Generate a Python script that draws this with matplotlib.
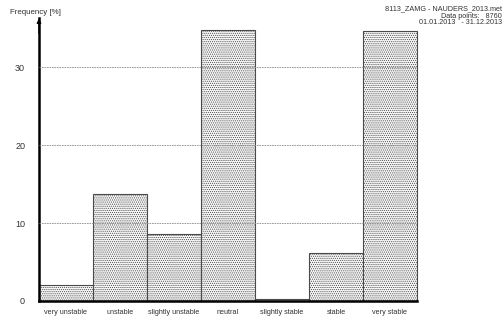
import matplotlib.pyplot as plt

plt.rcParams['font.family'] = ['Liberation Sans', 'DejaVu Sans']
plt.rcParams['hatch.color'] = '#b4b4b4'
plt.rcParams['hatch.linewidth'] = 0.5

classes = ['very unstable', 'unstable', 'slightly unstable', 'neutral',
           'slightly stable', 'stable', 'very stable']
frequency = [2.1, 13.7, 8.6, 34.7, 0.3, 6.1, 34.6]
yticks = [0, 10, 20, 30]

fig = plt.figure(figsize=(5.04, 3.22), dpi=100)
ax = fig.add_axes([39 / 504, 21 / 322, 378 / 504, 283 / 322])

x = list(range(len(classes)))
bars = ax.bar(x, frequency, width=1.0, color='#f6f6f6', edgecolor='#4a4a4a',
              linewidth=0.8, hatch='........', zorder=2)
for b in bars:
    b.set_clip_on(False)

ax.set_xlim(-0.5, len(classes) - 0.5)
ax.set_ylim(0, 36.3)
ax.set_yticks(yticks)
ax.set_yticklabels([str(t) for t in yticks], fontsize=6.5, color='#333333')
ax.set_xticks(x)
ax.set_xticklabels(classes, fontsize=5.2, color='#333333')
ax.tick_params(axis='both', length=0, pad=6)
ax.tick_params(axis='y', pad=10)

for t in yticks[1:]:
    ax.axhline(t, color='#8c8c8c', linestyle=(0, (2, 1)), linewidth=0.6, zorder=3)

for s in ['top', 'right']:
    ax.spines[s].set_visible(False)
ax.spines['left'].set_linewidth(1.8)
ax.spines['bottom'].set_linewidth(1.8)
ax.annotate('', xy=(-0.5, 36.6), xytext=(-0.5, 34.0),
            arrowprops=dict(arrowstyle='-|>', color='black', lw=1.0,
                            mutation_scale=6), annotation_clip=False)

fig.text(10 / 504, 1 - 12 / 322, 'Frequency [%]', fontsize=5.7, color='#333333',
         va='center', ha='left')
fig.text(502 / 504, 1 - 9 / 322, '8113_ZAMG - NAUDERS_2013.met', fontsize=5.2,
         color='#333333', va='center', ha='right')
fig.text(502 / 504, 1 - 16 / 322, 'Data points:   8760', fontsize=5.2,
         color='#333333', va='center', ha='right')
fig.text(502 / 504, 1 - 23 / 322, '01.01.2013   - 31.12.2013', fontsize=5.2,
         color='#333333', va='center', ha='right')

plt.savefig('out.png', dpi=100)
